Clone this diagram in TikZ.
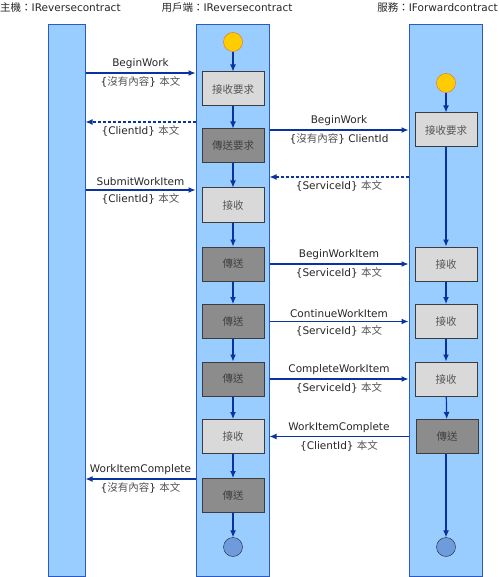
\documentclass[tikz,border=0pt]{standalone}
\usepackage{fontspec}
\setmainfont{DejaVu Sans}
\newfontfamily\zhfont{Noto Sans CJK TC}
\usetikzlibrary{arrows.meta}
\definecolor{lanefill}{RGB}{153,204,255}
\definecolor{laneline}{RGB}{40,90,200}
\definecolor{arrowcol}{RGB}{10,50,160}
\definecolor{boxlight}{RGB}{217,217,217}
\definecolor{boxdark}{RGB}{140,140,140}
\definecolor{boxline}{RGB}{60,60,60}
\definecolor{startfill}{RGB}{255,204,0}
\definecolor{startline}{RGB}{225,110,30}
\definecolor{endfill}{RGB}{110,155,220}
\definecolor{endline}{RGB}{30,30,50}
\definecolor{softtext}{RGB}{85,85,85}
\newcommand{\zh}[1]{{\zhfont\color{softtext}#1}}
\begin{document}
\begin{tikzpicture}[x=1pt,y=-1pt,font=\fontsize{10.5}{12}\selectfont,text=black!85,
  lane/.style={draw=laneline,fill=lanefill,line width=1pt,minimum height=551pt,inner sep=0},
  lightbox/.style={draw=boxline,fill=boxlight,line width=1pt,minimum width=62pt,minimum height=34pt,inner sep=0,font=\zhfont\fontsize{10.5}{12}\selectfont,text=softtext},
  darkbox/.style={lightbox,fill=boxdark,text=black!75},
  startdot/.style={circle,draw=startline,fill=startfill,minimum size=19pt,inner sep=0},
  enddot/.style={circle,draw=endline,fill=endfill,minimum size=19pt,inner sep=0},
  msg/.style={draw=arrowcol,line width=1.2pt,-{Latex[length=7pt,width=6pt]}},
  reply/.style={msg,dash pattern=on 3pt off 2pt}]
\useasboundingbox (0,0) rectangle (498,577);

\node[anchor=west,inner sep=0] (hosttitle) at (0,8) {{\zhfont 主機：}IReversecontract};
\node (clienttitle) at (227,8) {{\zhfont 用戶端：}IReversecontract};
\node[anchor=east,inner sep=0] (servicetitle) at (498,8) {{\zhfont 服務：}IForwardcontract};

\node[lane,minimum width=37pt] (host) at (66.5,300.5) {};
\node[lane,minimum width=73pt] (client) at (232.5,300.5) {};
\node[lane,minimum width=73pt] (service) at (445.5,300.5) {};

\node[startdot] (cstart) at (233,42) {};
\node[lightbox] (c1) at (233,89) {接收要求};
\node[darkbox] (c2) at (233,146) {傳送要求};
\node[lightbox] (c3) at (233,205) {接收};
\node[darkbox] (c4) at (233,264) {傳送};
\node[darkbox] (c5) at (233,321.5) {傳送};
\node[darkbox] (c6) at (233,379) {傳送};
\node[lightbox] (c7) at (233,436.5) {接收};
\node[darkbox] (c8) at (233,495.5) {傳送};
\node[enddot] (cend) at (233,547) {};

\node[startdot] (sstart) at (446,83) {};
\node[lightbox] (s1) at (446,130) {接收要求};
\node[lightbox] (s2) at (446,264) {接收};
\node[lightbox] (s3) at (446,321.5) {接收};
\node[lightbox] (s4) at (446,379) {接收};
\node[darkbox] (s5) at (447,436.5) {傳送};
\node[enddot] (send) at (446,547) {};

\draw[msg] (cstart) -- (c1);
\draw[msg] (c1) -- (c2);
\draw[msg] (c2) -- (c3);
\draw[msg] (c3) -- (c4);
\draw[msg] (c4) -- (c5);
\draw[msg] (c5) -- (c6);
\draw[msg] (c6) -- (c7);
\draw[msg] (c7) -- (c8);
\draw[msg] (c8) -- (cend);

\draw[msg] (sstart) -- (s1);
\draw[msg] (s1) -- (s2);
\draw[msg] (s2) -- (s3);
\draw[msg] (s3) -- (s4);
\draw[msg] (s4) -- (s5);
\draw[msg] (s5.south -| send) -- (send);

\draw[msg] (host.east |- 0,73) -- (client.west |- 0,73)
  node[midway,above] (m1a) {BeginWork} node[midway,below] (m1b) {\{\zh{沒有內容}\} \zh{本文}};
\draw[reply] (client.west |- 0,122) -- (host.east |- 0,122)
  node[midway,below] (m2b) {\{ClientId\} \zh{本文}};
\draw[msg] (client.east |- s1) -- (service.west |- s1)
  node[midway,above] (m3a) {BeginWork} node[midway,below] (m3b) {\{\zh{沒有內容}\} ClientId};
\draw[reply] (service.west |- 0,177) -- (client.east |- 0,177)
  node[midway,below] (m4b) {\{ServiceId\} \zh{本文}};
\draw[msg] (host.east |- 0,190) -- (client.west |- 0,190)
  node[midway,above] (m5a) {SubmitWorkItem} node[midway,below] (m5b) {\{ClientId\} \zh{本文}};
\draw[msg] (client.east |- c4) -- (service.west |- c4)
  node[midway,above] (m6a) {BeginWorkItem} node[midway,below] (m6b) {\{ServiceId\} \zh{本文}};
\draw[msg] (client.east |- c5) -- (service.west |- c5)
  node[midway,above] (m7a) {ContinueWorkItem} node[midway,below] (m7b) {\{ServiceId\} \zh{本文}};
\draw[msg] (client.east |- c6) -- (service.west |- c6)
  node[midway,above] (m8a) {CompleteWorkItem} node[midway,below] (m8b) {\{ServiceId\} \zh{本文}};
\draw[msg] (service.west |- s5) -- (client.east |- s5)
  node[midway,above] (m9a) {WorkItemComplete} node[midway,below] (m9b) {\{ClientId\} \zh{本文}};
\draw[msg] (client.west |- 0,479) -- (host.east |- 0,479)
  node[midway,above] (m10a) {WorkItemComplete} node[midway,below] (m10b) {\{\zh{沒有內容}\} \zh{本文}};

\end{tikzpicture}
\end{document}
